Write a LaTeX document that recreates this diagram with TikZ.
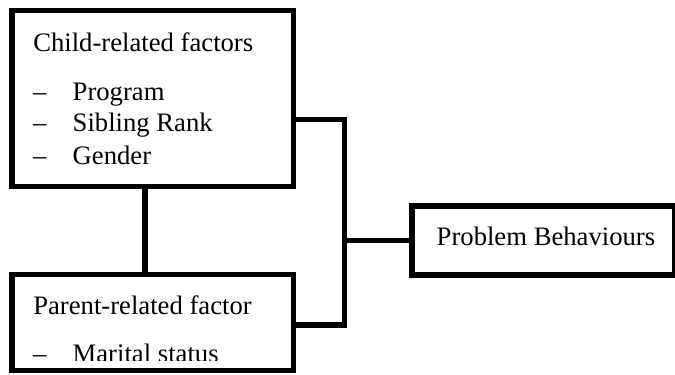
\documentclass[tikz,border=0pt]{standalone}
\usepackage{fontspec}
\setmainfont{Liberation Serif}
\begin{document}
\begin{tikzpicture}[x=0.45pt,y=-0.45pt,
  box/.style={draw=black,line width=2.3pt,fill=white,rectangle,inner sep=0pt,outer sep=0pt},
  conn/.style={draw=black,line width=2.3pt,line join=miter,line cap=rect},
  txt/.style={anchor=base west,inner sep=0pt,outer sep=0pt,font=\fontsize{12}{14.4}\selectfont}]
\useasboundingbox (0,0) rectangle (675,374);
\fill[white] (0,0) rectangle (675,374);
% boxes
\node[box,minimum width=126.68pt,minimum height=79.2pt] (child) at (152.75,98.5) {};
\node[box,minimum width=126.68pt,minimum height=43.2pt] (parent) at (152.75,322.5) {};
\node[box,minimum width=118.35pt,minimum height=31.05pt] (problem) at (543.5,240.5) {};
% junction coordinates
\coordinate (ja) at (344.5,119.5);
\coordinate (jb) at (344.5,325);
\coordinate (vx) at (145,0);
% connectors
\draw[conn] (ja -| child.east) -- (ja) -- (jb) -- (jb -| parent.east);
\draw[conn] (ja |- problem.west) -- (problem.west);
\draw[conn,line cap=butt] (child.south -| vx) -- (parent.north -| vx);
% texts
\node[txt] (ct) at (33.3,51.7) {Child-related factors};
\node[txt] (d1) at (33,100) {–};
\node[txt] (i1) at (72.7,100) {Program};
\node[txt] (d2) at (33,131.7) {–};
\node[txt] (i2) at (72.7,131.7) {Sibling Rank};
\node[txt] (d3) at (33,164.3) {–};
\node[txt] (i3) at (72.7,164.3) {Gender};
\node[txt] (pt) at (33.3,314.3) {Parent-related factor};
\begin{scope}
\clip (0,0) rectangle (675,360.3);
\node[txt] (d4) at (33,362.6) {–};
\node[txt] (i4) at (72.7,362.6) {Marital status};
\end{scope}
\node[txt] (pb) at (436.7,245) {Problem Behaviours};
\end{tikzpicture}
\end{document}
